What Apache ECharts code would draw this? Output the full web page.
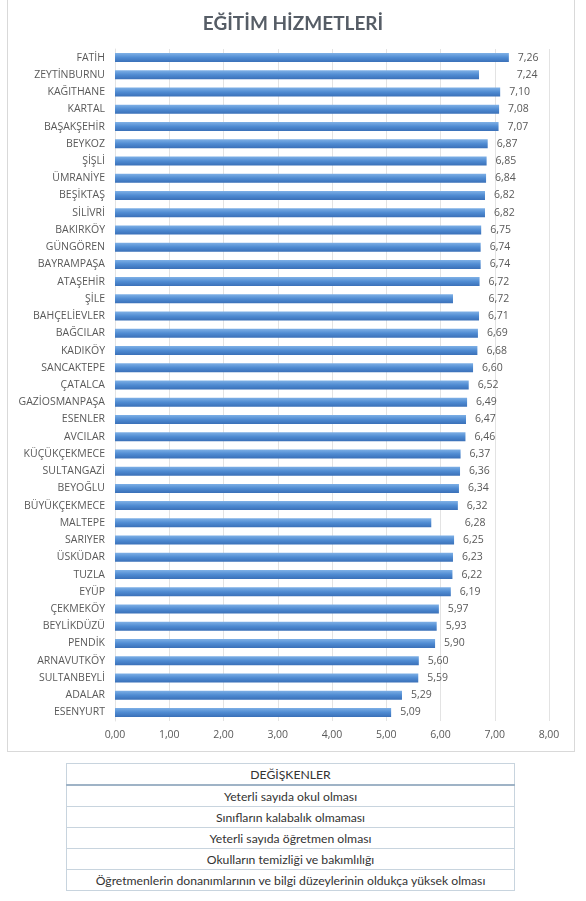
<!DOCTYPE html>
<html>
<head>
<meta charset="utf-8">
<script src="https://cdn.jsdelivr.net/npm/echarts@6/dist/echarts.min.js"></script>
<style>
    html, body { margin: 0; padding: 0; background: #fff; }
    #frame { position: absolute; left: 7px; top: -1px; width: 566px; height: 751px; border: 1px solid #d9d9d9; }
    #chart { position: absolute; left: 0; top: 0; width: 586px; height: 755px; }
    #vars { position: absolute; left: 66px; top: 763px; width: 449px; border-collapse: collapse; font-family: Lato, sans-serif; font-size: 12.2px; color: #333; }
    #vars td { border: 1px solid #c8d4de; text-align: center; height: 20px; padding: 0; }
    #vars tr.head td { border-bottom: 2px solid #9fb3c6; height: 20px; }
</style>
</head>
<body>
<div id="frame"></div>
<div id="chart"></div>
<table id="vars"></table>
<script>
// ilçeler (yukarıdan aşağıya)
var districts = ['FATİH', 'ZEYTİNBURNU', 'KAĞITHANE', 'KARTAL', 'BAŞAKŞEHİR', 'BEYKOZ', 'ŞİŞLİ', 'ÜMRANİYE', 'BEŞİKTAŞ', 'SİLİVRİ',
    'BAKIRKÖY', 'GÜNGÖREN', 'BAYRAMPAŞA', 'ATAŞEHİR', 'ŞİLE', 'BAHÇELİEVLER', 'BAĞCILAR', 'KADIKÖY', 'SANCAKTEPE', 'ÇATALCA',
    'GAZİOSMANPAŞA', 'ESENLER', 'AVCILAR', 'KÜÇÜKÇEKMECE', 'SULTANGAZİ', 'BEYOĞLU', 'BÜYÜKÇEKMECE', 'MALTEPE', 'SARIYER', 'ÜSKÜDAR',
    'TUZLA', 'EYÜP', 'ÇEKMEKÖY', 'BEYLİKDÜZÜ', 'PENDİK', 'ARNAVUTKÖY', 'SULTANBEYLİ', 'ADALAR', 'ESENYURT'];
// etiketlerde yazan değerler
var labelValues = [7.26, 7.24, 7.10, 7.08, 7.07, 6.87, 6.85, 6.84, 6.82, 6.82,
    6.75, 6.74, 6.74, 6.72, 6.72, 6.71, 6.69, 6.68, 6.60, 6.52,
    6.49, 6.47, 6.46, 6.37, 6.36, 6.34, 6.32, 6.28, 6.25, 6.23,
    6.22, 6.19, 5.97, 5.93, 5.90, 5.60, 5.59, 5.29, 5.09];
// çubukların resimdeki uzunlukları (bazıları etiketten farklı)
var barValues = [7.26, 6.71, 7.10, 7.08, 7.07, 6.87, 6.85, 6.84, 6.82, 6.82,
    6.75, 6.74, 6.74, 6.72, 6.23, 6.71, 6.69, 6.68, 6.60, 6.52,
    6.49, 6.47, 6.46, 6.37, 6.36, 6.34, 6.32, 5.83, 6.25, 6.23,
    6.22, 6.19, 5.97, 5.93, 5.90, 5.60, 5.59, 5.29, 5.09];
var xTicks = [0, 1, 2, 3, 4, 5, 6, 7, 8];
var tableRows = ['DEĞİŞKENLER', 'Yeterli sayıda okul olması', 'Sınıfların kalabalık olmaması', 'Yeterli sayıda öğretmen olması',
    'Okulların temizliği ve bakımlılığı', 'Öğretmenlerin donanımlarının ve bilgi düzeylerinin oldukça yüksek olması'];

function trNum(v) {
    return v.toFixed(2).replace('.', ',');
}

// tablo
var html = '';
for (var i = 0; i < tableRows.length; i++) {
    html += '<tr' + (i == 0 ? ' class="head"' : '') + '><td>' + tableRows[i] + '</td></tr>';
}
document.getElementById('vars').innerHTML = html;

var myChart = echarts.init(document.getElementById('chart'));
var option = {
    textStyle: { fontFamily: '"Open Sans", sans-serif' },
    title: {
        text: 'EĞİTİM HİZMETLERİ',
        left: 'center',
        top: 9,
        textStyle: { fontSize: 19, fontWeight: 'bold', color: '#565d66', fontFamily: 'Lato, sans-serif' }
    },
    grid: { left: 115, right: 37, top: 49, height: 672, containLabel: false },
    xAxis: {
        type: 'value',
        min: xTicks[0],
        max: xTicks[xTicks.length - 1],
        interval: 1,
        axisLine: { show: false },
        axisTick: { show: false },
        splitLine: { lineStyle: { color: '#e3e3e3', width: 1 } },
        axisLabel: {
            color: '#595959', fontSize: 10.5, margin: 9,
            formatter: function(v) { return trNum(v); }
        }
    },
    yAxis: {
        type: 'category',
        inverse: true,
        data: districts,
        axisLine: { show: true, lineStyle: { color: '#e3e3e3' } },
        axisTick: { show: false },
        axisLabel: { color: '#595959', fontSize: 10.5, margin: 10 }
    },
    series: [{
        name: 'bar',
        type: 'bar',
        barWidth: 9,
        data: barValues,
        itemStyle: {
            color: new echarts.graphic.LinearGradient(0, 0, 0, 1, [
                { offset: 0, color: '#7eb0e6' },
                { offset: 0.5, color: '#4f8bd2' },
                { offset: 1, color: '#3a70b8' }
            ])
        },
        silent: true
    }, {
        name: 'label',
        type: 'bar',
        barWidth: 9,
        barGap: '-100%',
        data: labelValues,
        itemStyle: { color: 'rgba(0,0,0,0)' },
        label: {
            show: true,
            position: 'right',
            distance: 9,
            color: '#595959',
            fontSize: 10.5,
            formatter: function(p) { return trNum(p.value); }
        },
        silent: true
    }]
};
myChart.clear();
myChart.setOption(option);
</script>
</body>
</html>
